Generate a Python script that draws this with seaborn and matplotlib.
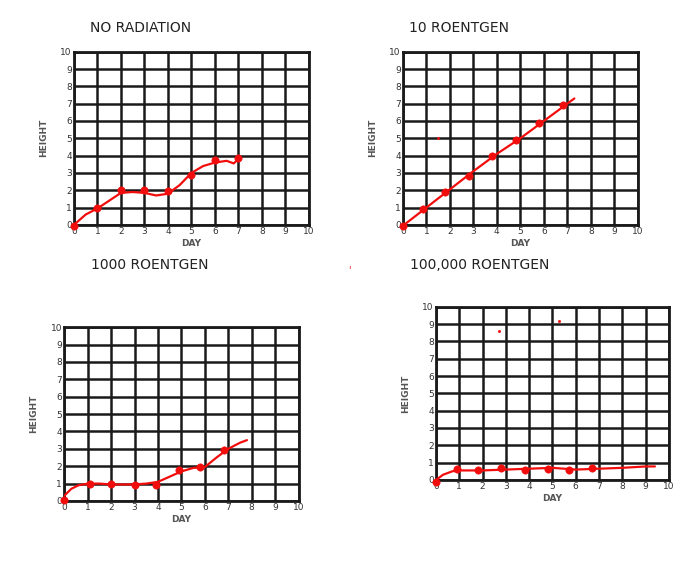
import matplotlib
matplotlib.use("Agg")
import matplotlib.pyplot as plt
import pandas as pd
import seaborn as sns

# plotted points (day, height) per radiation level
titles = ["NO RADIATION", "10 ROENTGEN", "1000 ROENTGEN", "100,000 ROENTGEN"]

pts_day = [
    [0, 1, 2, 3, 4, 5, 6, 7],
    [0, 0.85, 1.8, 2.8, 3.8, 4.8, 5.8, 6.8],
    [0, 1.1, 2, 3, 3.9, 4.9, 5.8, 6.8],
    [0, 0.9, 1.8, 2.8, 3.8, 4.8, 5.7, 6.7],
]
pts_height = [
    [-0.05, 0.95, 2.0, 2.0, 1.95, 2.9, 3.75, 3.85],
    [-0.05, 0.9, 1.9, 2.85, 3.95, 4.9, 5.9, 6.9],
    [0.05, 1.0, 1.0, 0.9, 0.9, 1.8, 1.95, 2.95],
    [-0.1, 0.65, 0.55, 0.7, 0.6, 0.65, 0.6, 0.7],
]

# hand-drawn trend curves
curve_day = [
    [0, 0.5, 1, 1.5, 2, 2.5, 3, 3.5, 4, 4.5, 5, 5.5, 6, 6.5, 6.8, 7],
    [-0.15, 0, 1, 2, 3, 4, 5, 6, 7, 7.3],
    [0, 0.3, 0.6, 1, 1.5, 2, 2.5, 3, 3.5, 4, 4.5, 5, 5.5, 6, 6.5, 7, 7.5, 7.8],
    [0, 0.3, 0.7, 1, 2, 3, 4, 5, 5.5, 6, 7, 8, 9, 9.4],
]
curve_height = [
    [0, 0.6, 0.95, 1.4, 1.85, 1.9, 1.85, 1.7, 1.8, 2.3, 3.0, 3.4, 3.6, 3.7, 3.55, 3.8],
    [-0.2, -0.05, 1.0, 2.05, 3.1, 4.1, 5.0, 6.0, 7.0, 7.3],
    [0.3, 0.7, 0.9, 1.0, 1.0, 0.95, 0.95, 0.95, 1.0, 1.1, 1.4, 1.7, 1.9, 1.95, 2.5, 3.0, 3.35, 3.5],
    [0, 0.3, 0.5, 0.55, 0.55, 0.6, 0.65, 0.7, 0.65, 0.6, 0.65, 0.7, 0.78, 0.78],
]

# stray red specks on the sheet
speck_day = [[], [1.5], [], [2.7, 5.3]]
speck_height = [[], [5.0], [], [8.6, 9.2]]

sns.set_style("white")
plt.rcParams["font.family"] = ["DejaVu Sans"]

fig = plt.figure(figsize=(6.91, 5.68), dpi=100)
boxes = [
    [0.107, 0.604, 0.340, 0.305],
    [0.583, 0.604, 0.340, 0.305],
    [0.093, 0.118, 0.339, 0.306],
    [0.631, 0.155, 0.337, 0.305],
]
title_pos = [(90, 28), (409, 28), (91, 265), (410, 265)]
red = "#f20d0d"

for i in range(4):
    ax = fig.add_axes(boxes[i])
    curve = pd.DataFrame({"day": curve_day[i], "height": curve_height[i]})
    pts = pd.DataFrame({"day": pts_day[i], "height": pts_height[i]})
    sns.lineplot(data=curve, x="day", y="height", sort=False, color=red,
                 lw=1.6, ax=ax, zorder=4)
    sns.scatterplot(data=pts, x="day", y="height", color=red, s=28,
                    edgecolor=red, ax=ax, zorder=5, clip_on=False)
    if speck_day[i]:
        sns.scatterplot(x=speck_day[i], y=speck_height[i], color=red, s=4,
                        edgecolor=red, ax=ax, zorder=5)
    ax.set_xlim(0, 10)
    ax.set_ylim(0, 10)
    ax.set_xticks(range(11))
    ax.set_yticks(range(11))
    ax.grid(True, color="#1a1a1a", lw=1.8)
    ax.set_axisbelow(True)
    for s in ax.spines.values():
        s.set_color("#1a1a1a")
        s.set_linewidth(2)
    ax.tick_params(length=0, pad=1.5, labelsize=6.5, labelcolor="#333333")
    ax.set_xlabel("DAY", fontsize=6.5, color="#555555", fontweight="bold", labelpad=2)
    ax.set_ylabel("HEIGHT", fontsize=6.5, color="#555555", fontweight="bold", labelpad=9)
    tx, ty = title_pos[i]
    fig.text(tx / 691, 1 - ty / 568, titles[i], fontsize=10, color="#222222",
             va="center", ha="left")

# stray tick mark between the lower panels
fig.text(349 / 691, 1 - 270 / 568, "'", color=red, fontsize=7, ha="center", va="center")

fig.savefig("out.png", dpi=100)
